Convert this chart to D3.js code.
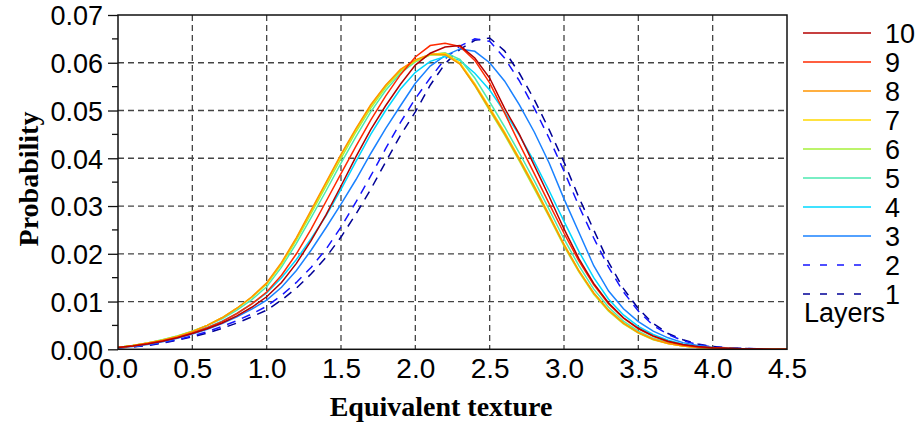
<!DOCTYPE html>
<html>
<head>
<meta charset="utf-8">
<script src="https://cdn.jsdelivr.net/npm/d3@7/dist/d3.min.js"></script>
<style>
  body { margin: 0; background: #fff; }
</style>
</head>
<body>
<div id="chart"></div>
<script>
"use strict";

// == DATA ==
var texture = d3.range(0, 46).map(function (i) { return +(i * 0.1).toFixed(1); });
var xTicks = [0, 0.5, 1, 1.5, 2, 2.5, 3, 3.5, 4, 4.5];
var yTicks = [0, 0.01, 0.02, 0.03, 0.04, 0.05, 0.06, 0.07];
var layerNames = ["1", "2", "3", "4", "5", "6", "7", "8", "9", "10"];
var layerColors = ["#000096", "#1414ff", "#1a82ff", "#00d8ff", "#4de8b0", "#a6f03a", "#ffd800", "#ff9500", "#ff2a00", "#b40000"];
var layerDashed = [true, true, false, false, false, false, false, false, false, false];

var layer1 = [0.0003, 0.0005, 0.0008, 0.0013, 0.0019, 0.0026, 0.0034, 0.0044, 0.0055, 0.0068,
  0.0082, 0.0103, 0.0128, 0.0158, 0.0193, 0.0235, 0.0283, 0.0335, 0.0392, 0.0448,
  0.0497, 0.0553, 0.0598, 0.0628, 0.0647, 0.0652, 0.0625, 0.0578, 0.0523, 0.0460,
  0.0392, 0.0318, 0.0250, 0.0182, 0.0127, 0.0085, 0.0054, 0.0033, 0.0020, 0.0011,
  0.0006, 0.0003, 0.0002, 0.0001, 0.0001, 0.0000];
var layer2 = [0.0003, 0.0005, 0.0009, 0.0014, 0.0020, 0.0028, 0.0037, 0.0048, 0.0060, 0.0074,
  0.0090, 0.0113, 0.0140, 0.0172, 0.0210, 0.0256, 0.0308, 0.0363, 0.0420, 0.0475,
  0.0525, 0.0568, 0.0608, 0.0635, 0.0650, 0.0645, 0.0610, 0.0562, 0.0505, 0.0442,
  0.0373, 0.0300, 0.0233, 0.0172, 0.0120, 0.0080, 0.0050, 0.0031, 0.0018, 0.0010,
  0.0005, 0.0003, 0.0002, 0.0001, 0.0001, 0.0000];
var layer3 = [0.0003, 0.0006, 0.0010, 0.0016, 0.0023, 0.0032, 0.0042, 0.0054, 0.0068, 0.0084,
  0.0103, 0.0130, 0.0165, 0.0208, 0.0255, 0.0304, 0.0355, 0.0410, 0.0462, 0.0510,
  0.0557, 0.0593, 0.0615, 0.0629, 0.0624, 0.0600, 0.0562, 0.0512, 0.0455, 0.0390,
  0.0315, 0.0245, 0.0175, 0.0122, 0.0085, 0.0058, 0.0038, 0.0024, 0.0014, 0.0008,
  0.0004, 0.0002, 0.0001, 0.0001, 0.0000, 0.0000];
var layer4 = [0.0004, 0.0008, 0.0012, 0.0018, 0.0026, 0.0035, 0.0046, 0.0059, 0.0075, 0.0095,
  0.0118, 0.0150, 0.0188, 0.0232, 0.0280, 0.0335, 0.0393, 0.0450, 0.0500, 0.0545,
  0.0580, 0.0603, 0.0613, 0.0605, 0.0578, 0.0543, 0.0497, 0.0448, 0.0393, 0.0332,
  0.0268, 0.0205, 0.0150, 0.0105, 0.0072, 0.0048, 0.0031, 0.0019, 0.0011, 0.0006,
  0.0003, 0.0002, 0.0001, 0.0001, 0.0000, 0.0000];
var layer5 = [0.0004, 0.0008, 0.0013, 0.0020, 0.0028, 0.0038, 0.0050, 0.0064, 0.0082, 0.0104,
  0.0131, 0.0172, 0.0222, 0.0276, 0.0332, 0.0390, 0.0445, 0.0497, 0.0542, 0.0578,
  0.0602, 0.0617, 0.0621, 0.0607, 0.0568, 0.0518, 0.0466, 0.0411, 0.0353, 0.0293,
  0.0231, 0.0175, 0.0126, 0.0088, 0.0059, 0.0038, 0.0023, 0.0014, 0.0008, 0.0004,
  0.0002, 0.0001, 0.0001, 0.0000, 0.0000, 0.0000];
var layer6 = [0.0004, 0.0008, 0.0013, 0.0020, 0.0028, 0.0038, 0.0050, 0.0066, 0.0086, 0.0109,
  0.0137, 0.0178, 0.0229, 0.0285, 0.0342, 0.0400, 0.0455, 0.0505, 0.0548, 0.0582,
  0.0603, 0.0616, 0.0617, 0.0598, 0.0552, 0.0500, 0.0449, 0.0394, 0.0336, 0.0277,
  0.0216, 0.0162, 0.0115, 0.0080, 0.0053, 0.0034, 0.0020, 0.0012, 0.0007, 0.0004,
  0.0002, 0.0001, 0.0001, 0.0000, 0.0000, 0.0000];
var layer7 = [0.0004, 0.0008, 0.0013, 0.0019, 0.0027, 0.0037, 0.0050, 0.0066, 0.0086, 0.0109,
  0.0138, 0.0180, 0.0232, 0.0290, 0.0348, 0.0406, 0.0460, 0.0510, 0.0552, 0.0585,
  0.0605, 0.0618, 0.0620, 0.0600, 0.0556, 0.0506, 0.0455, 0.0400, 0.0342, 0.0282,
  0.0220, 0.0165, 0.0118, 0.0082, 0.0055, 0.0035, 0.0021, 0.0012, 0.0007, 0.0004,
  0.0002, 0.0001, 0.0001, 0.0000, 0.0000, 0.0000];
var layer8 = [0.0004, 0.0008, 0.0013, 0.0019, 0.0027, 0.0037, 0.0050, 0.0066, 0.0086, 0.0110,
  0.0139, 0.0182, 0.0234, 0.0292, 0.0350, 0.0408, 0.0462, 0.0512, 0.0553, 0.0586,
  0.0606, 0.0618, 0.0617, 0.0597, 0.0553, 0.0503, 0.0452, 0.0397, 0.0340, 0.0280,
  0.0219, 0.0164, 0.0118, 0.0082, 0.0055, 0.0035, 0.0021, 0.0012, 0.0007, 0.0004,
  0.0002, 0.0001, 0.0001, 0.0000, 0.0000, 0.0000];
var layer9 = [0.0004, 0.0007, 0.0012, 0.0018, 0.0025, 0.0034, 0.0045, 0.0058, 0.0075, 0.0095,
  0.0120, 0.0155, 0.0200, 0.0252, 0.0310, 0.0368, 0.0425, 0.0480, 0.0530, 0.0575,
  0.0612, 0.0636, 0.0641, 0.0634, 0.0605, 0.0558, 0.0495, 0.0430, 0.0368, 0.0305,
  0.0243, 0.0185, 0.0135, 0.0095, 0.0065, 0.0043, 0.0027, 0.0016, 0.0009, 0.0005,
  0.0003, 0.0002, 0.0001, 0.0001, 0.0000, 0.0000];
var layer10 = [0.0004, 0.0007, 0.0011, 0.0017, 0.0024, 0.0033, 0.0043, 0.0055, 0.0070, 0.0088,
  0.0110, 0.0140, 0.0180, 0.0228, 0.0282, 0.0342, 0.0403, 0.0460, 0.0510, 0.0555,
  0.0595, 0.0620, 0.0633, 0.0636, 0.0610, 0.0568, 0.0505, 0.0450, 0.0385, 0.0320,
  0.0252, 0.0190, 0.0138, 0.0097, 0.0066, 0.0044, 0.0028, 0.0017, 0.0010, 0.0006,
  0.0003, 0.0002, 0.0001, 0.0001, 0.0000, 0.0000];

var layers = [layer1, layer2, layer3, layer4, layer5, layer6, layer7, layer8, layer9, layer10];

// == BOILERPLATE ==
var margin = { top: 15, right: 130, bottom: 75, left: 118 },
    width = 787 - 118,
    height = 349.3 - 15;

var svg = d3.select("#chart")
            .append("svg")
            .attr("width", 917)
            .attr("height", 424)
            .append("g")
            .attr("transform", "translate(" + margin.left + "," + margin.top + ")");

var xScale = d3.scaleLinear().domain([0, 4.5]).range([0, width]);
var yScale = d3.scaleLinear().domain([0, 0.07]).range([height, 0]);

// grid
svg.selectAll(".vgrid")
   .data(xTicks.slice(1, -1))
   .enter()
   .append("line")
   .attr("x1", function (d) { return xScale(d); })
   .attr("x2", function (d) { return xScale(d); })
   .attr("y1", 0)
   .attr("y2", height)
   .style("stroke", "#444")
   .style("stroke-width", 1.3)
   .style("stroke-dasharray", "6,4");

svg.selectAll(".hgrid")
   .data(yTicks.slice(1, -1))
   .enter()
   .append("line")
   .attr("x1", 0)
   .attr("x2", width)
   .attr("y1", function (d) { return yScale(d); })
   .attr("y2", function (d) { return yScale(d); })
   .style("stroke", "#444")
   .style("stroke-width", 1.3)
   .style("stroke-dasharray", "6,4");

// curves
var line = d3.line()
             .x(function (d, i) { return xScale(texture[i]); })
             .y(function (d) { return yScale(d); });

svg.selectAll(".curve")
   .data(layers)
   .enter()
   .append("path")
   .attr("d", line)
   .style("fill", "none")
   .style("stroke", function (d, i) { return layerColors[i]; })
   .style("stroke-width", 1.5)
   .style("stroke-dasharray", function (d, i) { return layerDashed[i] ? "9,7" : null; });

// frame
svg.append("rect")
   .attr("x", 0)
   .attr("y", 0)
   .attr("width", width)
   .attr("height", height)
   .style("fill", "none")
   .style("stroke", "#111")
   .style("stroke-width", 1.5);

// y axis with minor ticks
var yAxis = d3.axisLeft(yScale)
              .tickValues(yTicks)
              .tickFormat(d3.format(".2f"))
              .tickSize(10)
              .tickPadding(5);
var yAxisG = svg.append("g").call(yAxis);
yAxisG.select(".domain").remove();
yAxisG.selectAll("text")
      .style("font-family", "'Liberation Sans', Arial, sans-serif")
      .style("font-size", "27px")
      .attr("dy", "0.36em")
      .style("fill", "#000");
yAxisG.selectAll("line").style("stroke", "#111").style("stroke-width", 1.3);

svg.selectAll(".minor")
   .data([0.005, 0.015, 0.025, 0.035, 0.045, 0.055, 0.065])
   .enter()
   .append("line")
   .attr("x1", -6)
   .attr("x2", 0)
   .attr("y1", function (d) { return yScale(d); })
   .attr("y2", function (d) { return yScale(d); })
   .style("stroke", "#111")
   .style("stroke-width", 1.3);

// x axis
var xAxis = d3.axisBottom(xScale)
              .tickValues(xTicks)
              .tickFormat(d3.format(".1f"))
              .tickSize(0)
              .tickPadding(9);
var xAxisG = svg.append("g")
                .attr("transform", "translate(0," + height + ")")
                .call(xAxis);
xAxisG.select(".domain").remove();
xAxisG.selectAll("text")
      .style("font-family", "'Liberation Sans', Arial, sans-serif")
      .style("font-size", "28px")
      .style("fill", "#000");

// axis titles
svg.append("text")
   .attr("transform", "translate(" + (28 - margin.left) + "," + (179 - margin.top) + ") rotate(-90)")
   .attr("text-anchor", "middle")
   .attr("dy", "0.35em")
   .style("font-family", "'Liberation Serif', 'Times New Roman', serif")
   .style("font-weight", "bold")
   .style("font-size", "28px")
   .text("Probability");

svg.append("text")
   .attr("x", 441 - margin.left)
   .attr("y", 416 - margin.top)
   .attr("text-anchor", "middle")
   .style("font-family", "'Liberation Serif', 'Times New Roman', serif")
   .style("font-weight", "bold")
   .style("font-size", "28px")
   .text("Equivalent texture");

// legend (10 at top)
var legend = d3.select("svg").append("g");
var legendY = d3.scalePoint().domain(layerNames.slice().reverse()).range([33, 294]);

var items = legend.selectAll(".item")
                  .data(layerNames.slice().reverse())
                  .enter()
                  .append("g")
                  .attr("transform", function (d) { return "translate(803," + legendY(d) + ")"; });

items.append("line")
     .attr("x1", 0)
     .attr("x2", 68)
     .style("stroke", function (d) { return layerColors[+d - 1]; })
     .style("stroke-width", 1.5)
     .style("stroke-dasharray", function (d) { return layerDashed[+d - 1] ? "7,10" : null; });

items.append("text")
     .attr("x", 82)
     .attr("y", 10)
     .style("font-family", "'Liberation Sans', Arial, sans-serif")
     .style("font-size", "27px")
     .text(function (d) { return d; });

legend.append("text")
      .attr("x", 804)
      .attr("y", 322)
      .style("font-family", "'Liberation Sans', Arial, sans-serif")
      .style("font-size", "27px")
      .text("Layers");
</script>
</body>
</html>
